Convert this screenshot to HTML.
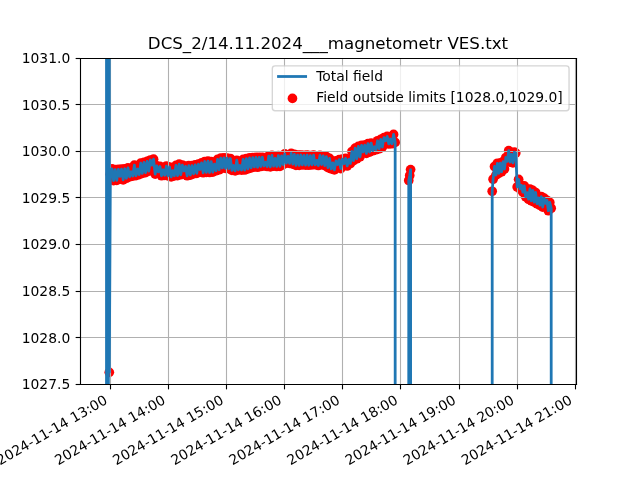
<!DOCTYPE html>
<html lang="en">
<head>
<meta charset="utf-8">
<title>DCS_2/14.11.2024___magnetometr VES.txt</title>
<style>html,body{margin:0;padding:0;background:#fff;overflow:hidden}svg{display:block}svg text{font-family:"DejaVu Sans","Liberation Sans",sans-serif}</style>
</head>
<body>
<svg width="640" height="480" viewBox="0 0 460.8 345.6">
 <defs>
  <style type="text/css">*{stroke-linejoin: round; stroke-linecap: butt}</style>
 </defs>
 <g id="figure_1">
  <g id="patch_1">
   <path d="M 0 345.6 L 460.8 345.6 L 460.8 0 L 0 0 z
" style="fill: #ffffff"/>
  </g>
  <g id="axes_1">
   <g id="patch_2">
    <path d="M 57.6 276.48 L 414.72 276.48 L 414.72 41.472 L 57.6 41.472 z
" style="fill: #ffffff"/>
   </g>
   <g id="PathCollection_1">
    <g clip-path="url(#p0667d4175c)">
     <circle cx="78.696" cy="268.087" r="3.5" style="fill: #ff0000"/>
     <circle cx="79.466" cy="125.400" r="3.5" style="fill: #ff0000"/>
     <circle cx="80.618" cy="121.572" r="3.5" style="fill: #ff0000"/>
     <circle cx="81.770" cy="129.985" r="3.5" style="fill: #ff0000"/>
     <circle cx="82.922" cy="122.128" r="3.5" style="fill: #ff0000"/>
     <circle cx="84.074" cy="129.885" r="3.5" style="fill: #ff0000"/>
     <circle cx="85.226" cy="121.924" r="3.5" style="fill: #ff0000"/>
     <circle cx="86.378" cy="127.049" r="3.5" style="fill: #ff0000"/>
     <circle cx="87.530" cy="121.744" r="3.5" style="fill: #ff0000"/>
     <circle cx="88.682" cy="129.527" r="3.5" style="fill: #ff0000"/>
     <circle cx="89.834" cy="121.513" r="3.5" style="fill: #ff0000"/>
     <circle cx="90.986" cy="128.341" r="3.5" style="fill: #ff0000"/>
     <circle cx="92.138" cy="120.942" r="3.5" style="fill: #ff0000"/>
     <circle cx="93.290" cy="127.317" r="3.5" style="fill: #ff0000"/>
     <circle cx="94.442" cy="123.652" r="3.5" style="fill: #ff0000"/>
     <circle cx="95.594" cy="126.764" r="3.5" style="fill: #ff0000"/>
     <circle cx="96.746" cy="118.905" r="3.5" style="fill: #ff0000"/>
     <circle cx="97.898" cy="126.486" r="3.5" style="fill: #ff0000"/>
     <circle cx="99.050" cy="121.683" r="3.5" style="fill: #ff0000"/>
     <circle cx="100.202" cy="125.751" r="3.5" style="fill: #ff0000"/>
     <circle cx="101.354" cy="117.471" r="3.5" style="fill: #ff0000"/>
     <circle cx="102.506" cy="124.861" r="3.5" style="fill: #ff0000"/>
     <circle cx="103.658" cy="116.880" r="3.5" style="fill: #ff0000"/>
     <circle cx="104.810" cy="124.295" r="3.5" style="fill: #ff0000"/>
     <circle cx="105.962" cy="116.182" r="3.5" style="fill: #ff0000"/>
     <circle cx="107.114" cy="123.212" r="3.5" style="fill: #ff0000"/>
     <circle cx="108.266" cy="115.208" r="3.5" style="fill: #ff0000"/>
     <circle cx="109.418" cy="118.890" r="3.5" style="fill: #ff0000"/>
     <circle cx="110.570" cy="114.622" r="3.5" style="fill: #ff0000"/>
     <circle cx="111.722" cy="125.359" r="3.5" style="fill: #ff0000"/>
     <circle cx="112.874" cy="119.434" r="3.5" style="fill: #ff0000"/>
     <circle cx="114.026" cy="123.727" r="3.5" style="fill: #ff0000"/>
     <circle cx="115.178" cy="119.867" r="3.5" style="fill: #ff0000"/>
     <circle cx="116.330" cy="126.529" r="3.5" style="fill: #ff0000"/>
     <circle cx="117.482" cy="122.220" r="3.5" style="fill: #ff0000"/>
     <circle cx="118.634" cy="126.202" r="3.5" style="fill: #ff0000"/>
     <circle cx="119.786" cy="119.552" r="3.5" style="fill: #ff0000"/>
     <circle cx="120.938" cy="126.586" r="3.5" style="fill: #ff0000"/>
     <circle cx="122.090" cy="120.238" r="3.5" style="fill: #ff0000"/>
     <circle cx="123.242" cy="127.331" r="3.5" style="fill: #ff0000"/>
     <circle cx="124.394" cy="122.825" r="3.5" style="fill: #ff0000"/>
     <circle cx="125.546" cy="126.555" r="3.5" style="fill: #ff0000"/>
     <circle cx="126.698" cy="119.098" r="3.5" style="fill: #ff0000"/>
     <circle cx="127.850" cy="126.397" r="3.5" style="fill: #ff0000"/>
     <circle cx="129.002" cy="118.205" r="3.5" style="fill: #ff0000"/>
     <circle cx="130.154" cy="125.815" r="3.5" style="fill: #ff0000"/>
     <circle cx="131.306" cy="118.836" r="3.5" style="fill: #ff0000"/>
     <circle cx="132.458" cy="123.111" r="3.5" style="fill: #ff0000"/>
     <circle cx="133.610" cy="119.780" r="3.5" style="fill: #ff0000"/>
     <circle cx="134.762" cy="126.546" r="3.5" style="fill: #ff0000"/>
     <circle cx="135.914" cy="119.320" r="3.5" style="fill: #ff0000"/>
     <circle cx="137.066" cy="126.014" r="3.5" style="fill: #ff0000"/>
     <circle cx="138.218" cy="119.264" r="3.5" style="fill: #ff0000"/>
     <circle cx="139.370" cy="125.141" r="3.5" style="fill: #ff0000"/>
     <circle cx="140.522" cy="118.775" r="3.5" style="fill: #ff0000"/>
     <circle cx="141.674" cy="124.768" r="3.5" style="fill: #ff0000"/>
     <circle cx="142.826" cy="118.237" r="3.5" style="fill: #ff0000"/>
     <circle cx="143.978" cy="122.026" r="3.5" style="fill: #ff0000"/>
     <circle cx="145.130" cy="117.229" r="3.5" style="fill: #ff0000"/>
     <circle cx="146.282" cy="124.379" r="3.5" style="fill: #ff0000"/>
     <circle cx="147.434" cy="116.297" r="3.5" style="fill: #ff0000"/>
     <circle cx="148.586" cy="124.134" r="3.5" style="fill: #ff0000"/>
     <circle cx="149.738" cy="116.051" r="3.5" style="fill: #ff0000"/>
     <circle cx="150.890" cy="124.176" r="3.5" style="fill: #ff0000"/>
     <circle cx="152.042" cy="116.330" r="3.5" style="fill: #ff0000"/>
     <circle cx="153.194" cy="123.952" r="3.5" style="fill: #ff0000"/>
     <circle cx="154.346" cy="118.132" r="3.5" style="fill: #ff0000"/>
     <circle cx="155.498" cy="122.935" r="3.5" style="fill: #ff0000"/>
     <circle cx="156.650" cy="114.824" r="3.5" style="fill: #ff0000"/>
     <circle cx="157.802" cy="122.207" r="3.5" style="fill: #ff0000"/>
     <circle cx="158.954" cy="113.872" r="3.5" style="fill: #ff0000"/>
     <circle cx="160.106" cy="120.937" r="3.5" style="fill: #ff0000"/>
     <circle cx="161.258" cy="113.608" r="3.5" style="fill: #ff0000"/>
     <circle cx="162.410" cy="121.215" r="3.5" style="fill: #ff0000"/>
     <circle cx="163.562" cy="113.814" r="3.5" style="fill: #ff0000"/>
     <circle cx="164.714" cy="121.434" r="3.5" style="fill: #ff0000"/>
     <circle cx="165.866" cy="114.122" r="3.5" style="fill: #ff0000"/>
     <circle cx="167.018" cy="122.679" r="3.5" style="fill: #ff0000"/>
     <circle cx="168.170" cy="119.164" r="3.5" style="fill: #ff0000"/>
     <circle cx="169.322" cy="123.022" r="3.5" style="fill: #ff0000"/>
     <circle cx="170.474" cy="115.374" r="3.5" style="fill: #ff0000"/>
     <circle cx="171.626" cy="122.300" r="3.5" style="fill: #ff0000"/>
     <circle cx="172.778" cy="119.192" r="3.5" style="fill: #ff0000"/>
     <circle cx="173.930" cy="122.422" r="3.5" style="fill: #ff0000"/>
     <circle cx="175.082" cy="114.788" r="3.5" style="fill: #ff0000"/>
     <circle cx="176.234" cy="122.403" r="3.5" style="fill: #ff0000"/>
     <circle cx="177.386" cy="114.223" r="3.5" style="fill: #ff0000"/>
     <circle cx="178.538" cy="121.538" r="3.5" style="fill: #ff0000"/>
     <circle cx="179.690" cy="113.708" r="3.5" style="fill: #ff0000"/>
     <circle cx="180.842" cy="120.852" r="3.5" style="fill: #ff0000"/>
     <circle cx="181.994" cy="113.517" r="3.5" style="fill: #ff0000"/>
     <circle cx="183.146" cy="120.183" r="3.5" style="fill: #ff0000"/>
     <circle cx="184.298" cy="113.355" r="3.5" style="fill: #ff0000"/>
     <circle cx="185.450" cy="120.377" r="3.5" style="fill: #ff0000"/>
     <circle cx="186.602" cy="113.294" r="3.5" style="fill: #ff0000"/>
     <circle cx="187.754" cy="119.883" r="3.5" style="fill: #ff0000"/>
     <circle cx="188.906" cy="113.240" r="3.5" style="fill: #ff0000"/>
     <circle cx="190.058" cy="119.512" r="3.5" style="fill: #ff0000"/>
     <circle cx="191.210" cy="116.857" r="3.5" style="fill: #ff0000"/>
     <circle cx="192.362" cy="119.874" r="3.5" style="fill: #ff0000"/>
     <circle cx="193.514" cy="112.351" r="3.5" style="fill: #ff0000"/>
     <circle cx="194.666" cy="120.149" r="3.5" style="fill: #ff0000"/>
     <circle cx="195.818" cy="111.926" r="3.5" style="fill: #ff0000"/>
     <circle cx="196.970" cy="119.605" r="3.5" style="fill: #ff0000"/>
     <circle cx="198.122" cy="113.988" r="3.5" style="fill: #ff0000"/>
     <circle cx="199.274" cy="119.868" r="3.5" style="fill: #ff0000"/>
     <circle cx="200.426" cy="112.013" r="3.5" style="fill: #ff0000"/>
     <circle cx="201.578" cy="119.785" r="3.5" style="fill: #ff0000"/>
     <circle cx="202.730" cy="112.208" r="3.5" style="fill: #ff0000"/>
     <circle cx="203.882" cy="118.453" r="3.5" style="fill: #ff0000"/>
     <circle cx="205.034" cy="110.810" r="3.5" style="fill: #ff0000"/>
     <circle cx="206.186" cy="117.445" r="3.5" style="fill: #ff0000"/>
     <circle cx="207.338" cy="112.630" r="3.5" style="fill: #ff0000"/>
     <circle cx="208.490" cy="117.667" r="3.5" style="fill: #ff0000"/>
     <circle cx="209.642" cy="110.423" r="3.5" style="fill: #ff0000"/>
     <circle cx="210.794" cy="118.204" r="3.5" style="fill: #ff0000"/>
     <circle cx="211.946" cy="111.159" r="3.5" style="fill: #ff0000"/>
     <circle cx="213.098" cy="119.035" r="3.5" style="fill: #ff0000"/>
     <circle cx="214.250" cy="111.709" r="3.5" style="fill: #ff0000"/>
     <circle cx="215.402" cy="118.999" r="3.5" style="fill: #ff0000"/>
     <circle cx="216.554" cy="111.601" r="3.5" style="fill: #ff0000"/>
     <circle cx="217.706" cy="118.714" r="3.5" style="fill: #ff0000"/>
     <circle cx="218.858" cy="111.876" r="3.5" style="fill: #ff0000"/>
     <circle cx="220.010" cy="118.858" r="3.5" style="fill: #ff0000"/>
     <circle cx="221.162" cy="111.726" r="3.5" style="fill: #ff0000"/>
     <circle cx="222.314" cy="118.980" r="3.5" style="fill: #ff0000"/>
     <circle cx="223.466" cy="112.011" r="3.5" style="fill: #ff0000"/>
     <circle cx="224.618" cy="118.638" r="3.5" style="fill: #ff0000"/>
     <circle cx="225.770" cy="111.733" r="3.5" style="fill: #ff0000"/>
     <circle cx="226.922" cy="118.605" r="3.5" style="fill: #ff0000"/>
     <circle cx="228.074" cy="115.495" r="3.5" style="fill: #ff0000"/>
     <circle cx="229.226" cy="119.163" r="3.5" style="fill: #ff0000"/>
     <circle cx="230.378" cy="111.899" r="3.5" style="fill: #ff0000"/>
     <circle cx="231.530" cy="118.510" r="3.5" style="fill: #ff0000"/>
     <circle cx="232.682" cy="112.228" r="3.5" style="fill: #ff0000"/>
     <circle cx="233.834" cy="119.191" r="3.5" style="fill: #ff0000"/>
     <circle cx="234.986" cy="112.764" r="3.5" style="fill: #ff0000"/>
     <circle cx="236.138" cy="120.698" r="3.5" style="fill: #ff0000"/>
     <circle cx="237.290" cy="114.032" r="3.5" style="fill: #ff0000"/>
     <circle cx="238.442" cy="121.533" r="3.5" style="fill: #ff0000"/>
     <circle cx="239.594" cy="117.215" r="3.5" style="fill: #ff0000"/>
     <circle cx="240.746" cy="122.336" r="3.5" style="fill: #ff0000"/>
     <circle cx="241.898" cy="115.857" r="3.5" style="fill: #ff0000"/>
     <circle cx="243.050" cy="118.478" r="3.5" style="fill: #ff0000"/>
     <circle cx="244.202" cy="114.944" r="3.5" style="fill: #ff0000"/>
     <circle cx="245.354" cy="121.393" r="3.5" style="fill: #ff0000"/>
     <circle cx="246.506" cy="114.608" r="3.5" style="fill: #ff0000"/>
     <circle cx="247.658" cy="117.794" r="3.5" style="fill: #ff0000"/>
     <circle cx="248.810" cy="113.983" r="3.5" style="fill: #ff0000"/>
     <circle cx="249.962" cy="119.476" r="3.5" style="fill: #ff0000"/>
     <circle cx="251.114" cy="114.743" r="3.5" style="fill: #ff0000"/>
     <circle cx="252.266" cy="117.678" r="3.5" style="fill: #ff0000"/>
     <circle cx="253.418" cy="109.082" r="3.5" style="fill: #ff0000"/>
     <circle cx="254.570" cy="115.685" r="3.5" style="fill: #ff0000"/>
     <circle cx="255.722" cy="106.714" r="3.5" style="fill: #ff0000"/>
     <circle cx="256.874" cy="114.295" r="3.5" style="fill: #ff0000"/>
     <circle cx="258.026" cy="105.410" r="3.5" style="fill: #ff0000"/>
     <circle cx="259.178" cy="112.894" r="3.5" style="fill: #ff0000"/>
     <circle cx="260.330" cy="104.714" r="3.5" style="fill: #ff0000"/>
     <circle cx="261.482" cy="109.421" r="3.5" style="fill: #ff0000"/>
     <circle cx="262.634" cy="104.436" r="3.5" style="fill: #ff0000"/>
     <circle cx="263.786" cy="110.464" r="3.5" style="fill: #ff0000"/>
     <circle cx="264.938" cy="103.386" r="3.5" style="fill: #ff0000"/>
     <circle cx="266.090" cy="109.469" r="3.5" style="fill: #ff0000"/>
     <circle cx="267.242" cy="103.032" r="3.5" style="fill: #ff0000"/>
     <circle cx="268.394" cy="108.511" r="3.5" style="fill: #ff0000"/>
     <circle cx="269.546" cy="105.622" r="3.5" style="fill: #ff0000"/>
     <circle cx="270.698" cy="107.801" r="3.5" style="fill: #ff0000"/>
     <circle cx="271.850" cy="101.346" r="3.5" style="fill: #ff0000"/>
     <circle cx="273.002" cy="107.056" r="3.5" style="fill: #ff0000"/>
     <circle cx="274.154" cy="100.391" r="3.5" style="fill: #ff0000"/>
     <circle cx="275.306" cy="105.888" r="3.5" style="fill: #ff0000"/>
     <circle cx="276.458" cy="99.083" r="3.5" style="fill: #ff0000"/>
     <circle cx="277.610" cy="101.393" r="3.5" style="fill: #ff0000"/>
     <circle cx="278.762" cy="98.191" r="3.5" style="fill: #ff0000"/>
     <circle cx="279.914" cy="103.651" r="3.5" style="fill: #ff0000"/>
     <circle cx="281.066" cy="100.084" r="3.5" style="fill: #ff0000"/>
     <circle cx="282.218" cy="103.509" r="3.5" style="fill: #ff0000"/>
     <circle cx="283.370" cy="96.776" r="3.5" style="fill: #ff0000"/>
     <circle cx="284.522" cy="102.525" r="3.5" style="fill: #ff0000"/>
     <circle cx="294.300" cy="129.960" r="3.5" style="fill: #ff0000"/>
     <circle cx="294.998" cy="126.360" r="3.5" style="fill: #ff0000"/>
     <circle cx="295.632" cy="122.112" r="3.5" style="fill: #ff0000"/>
     <circle cx="354.384" cy="137.700" r="3.5" style="fill: #ff0000"/>
     <circle cx="355.034" cy="129.031" r="3.5" style="fill: #ff0000"/>
     <circle cx="356.054" cy="119.878" r="3.5" style="fill: #ff0000"/>
     <circle cx="357.075" cy="126.093" r="3.5" style="fill: #ff0000"/>
     <circle cx="358.095" cy="117.571" r="3.5" style="fill: #ff0000"/>
     <circle cx="359.115" cy="124.751" r="3.5" style="fill: #ff0000"/>
     <circle cx="360.135" cy="117.517" r="3.5" style="fill: #ff0000"/>
     <circle cx="361.156" cy="123.648" r="3.5" style="fill: #ff0000"/>
     <circle cx="362.176" cy="116.355" r="3.5" style="fill: #ff0000"/>
     <circle cx="363.196" cy="121.714" r="3.5" style="fill: #ff0000"/>
     <circle cx="364.216" cy="113.409" r="3.5" style="fill: #ff0000"/>
     <circle cx="365.237" cy="116.177" r="3.5" style="fill: #ff0000"/>
     <circle cx="366.257" cy="108.472" r="3.5" style="fill: #ff0000"/>
     <circle cx="367.277" cy="116.697" r="3.5" style="fill: #ff0000"/>
     <circle cx="368.297" cy="111.158" r="3.5" style="fill: #ff0000"/>
     <circle cx="369.318" cy="117.244" r="3.5" style="fill: #ff0000"/>
     <circle cx="370.338" cy="109.598" r="3.5" style="fill: #ff0000"/>
     <circle cx="371.358" cy="110.241" r="3.5" style="fill: #ff0000"/>
     <circle cx="372.378" cy="134.622" r="3.5" style="fill: #ff0000"/>
     <circle cx="373.398" cy="129.147" r="3.5" style="fill: #ff0000"/>
     <circle cx="374.419" cy="135.956" r="3.5" style="fill: #ff0000"/>
     <circle cx="375.439" cy="133.443" r="3.5" style="fill: #ff0000"/>
     <circle cx="376.459" cy="138.346" r="3.5" style="fill: #ff0000"/>
     <circle cx="377.479" cy="133.843" r="3.5" style="fill: #ff0000"/>
     <circle cx="378.500" cy="141.687" r="3.5" style="fill: #ff0000"/>
     <circle cx="379.520" cy="138.709" r="3.5" style="fill: #ff0000"/>
     <circle cx="380.540" cy="143.429" r="3.5" style="fill: #ff0000"/>
     <circle cx="381.560" cy="136.074" r="3.5" style="fill: #ff0000"/>
     <circle cx="382.581" cy="144.557" r="3.5" style="fill: #ff0000"/>
     <circle cx="383.601" cy="137.089" r="3.5" style="fill: #ff0000"/>
     <circle cx="384.621" cy="145.533" r="3.5" style="fill: #ff0000"/>
     <circle cx="385.641" cy="138.593" r="3.5" style="fill: #ff0000"/>
     <circle cx="386.662" cy="146.656" r="3.5" style="fill: #ff0000"/>
     <circle cx="387.682" cy="142.499" r="3.5" style="fill: #ff0000"/>
     <circle cx="388.702" cy="147.757" r="3.5" style="fill: #ff0000"/>
     <circle cx="389.722" cy="141.501" r="3.5" style="fill: #ff0000"/>
     <circle cx="390.743" cy="149.081" r="3.5" style="fill: #ff0000"/>
     <circle cx="391.763" cy="142.674" r="3.5" style="fill: #ff0000"/>
     <circle cx="392.783" cy="146.386" r="3.5" style="fill: #ff0000"/>
     <circle cx="393.803" cy="144.214" r="3.5" style="fill: #ff0000"/>
     <circle cx="394.824" cy="151.707" r="3.5" style="fill: #ff0000"/>
     <circle cx="395.844" cy="145.785" r="3.5" style="fill: #ff0000"/>
     <circle cx="396.864" cy="149.963" r="3.5" style="fill: #ff0000"/>
    </g>
   </g>
   <g id="matplotlib.axis_1">
    <g id="xtick_1">
     <g id="line2d_1">
      <path d="M 79.560000 276.840000 L 79.560000 42.120000" clip-path="url(#p0667d4175c)" style="fill: none; stroke: #b0b0b0; stroke-width: 0.8; stroke-linecap: square"/>
     </g>
     <g id="line2d_2">
      <g>
       <path d="M 79.560000 276.840000 l 0 3.5" style="stroke: #000000; stroke-width: 0.8"/>
      </g>
     </g>
     <g id="text_1">
      <text style="font-size: 10px; font-family: 'DejaVu Sans', sans-serif" transform="translate(0.084442 335.11669) rotate(-30)">2024-11-14 13:00</text>
     </g>
    </g>
    <g id="xtick_2">
     <g id="line2d_3">
      <path d="M 121.320000 276.840000 L 121.320000 42.120000" clip-path="url(#p0667d4175c)" style="fill: none; stroke: #b0b0b0; stroke-width: 0.8; stroke-linecap: square"/>
     </g>
     <g id="line2d_4">
      <g>
       <path d="M 121.320000 276.840000 l 0 3.5" style="stroke: #000000; stroke-width: 0.8"/>
      </g>
     </g>
     <g id="text_2">
      <text style="font-size: 10px; font-family: 'DejaVu Sans', sans-serif" transform="translate(41.916442 335.11669) rotate(-30)">2024-11-14 14:00</text>
     </g>
    </g>
    <g id="xtick_3">
     <g id="line2d_5">
      <path d="M 163.080000 276.840000 L 163.080000 42.120000" clip-path="url(#p0667d4175c)" style="fill: none; stroke: #b0b0b0; stroke-width: 0.8; stroke-linecap: square"/>
     </g>
     <g id="line2d_6">
      <g>
       <path d="M 163.080000 276.840000 l 0 3.5" style="stroke: #000000; stroke-width: 0.8"/>
      </g>
     </g>
     <g id="text_3">
      <text style="font-size: 10px; font-family: 'DejaVu Sans', sans-serif" transform="translate(83.748442 335.11669) rotate(-30)">2024-11-14 15:00</text>
     </g>
    </g>
    <g id="xtick_4">
     <g id="line2d_7">
      <path d="M 204.840000 276.840000 L 204.840000 42.120000" clip-path="url(#p0667d4175c)" style="fill: none; stroke: #b0b0b0; stroke-width: 0.8; stroke-linecap: square"/>
     </g>
     <g id="line2d_8">
      <g>
       <path d="M 204.840000 276.840000 l 0 3.5" style="stroke: #000000; stroke-width: 0.8"/>
      </g>
     </g>
     <g id="text_4">
      <text style="font-size: 10px; font-family: 'DejaVu Sans', sans-serif" transform="translate(125.580442 335.11669) rotate(-30)">2024-11-14 16:00</text>
     </g>
    </g>
    <g id="xtick_5">
     <g id="line2d_9">
      <path d="M 246.600000 276.840000 L 246.600000 42.120000" clip-path="url(#p0667d4175c)" style="fill: none; stroke: #b0b0b0; stroke-width: 0.8; stroke-linecap: square"/>
     </g>
     <g id="line2d_10">
      <g>
       <path d="M 246.600000 276.840000 l 0 3.5" style="stroke: #000000; stroke-width: 0.8"/>
      </g>
     </g>
     <g id="text_5">
      <text style="font-size: 10px; font-family: 'DejaVu Sans', sans-serif" transform="translate(167.412442 335.11669) rotate(-30)">2024-11-14 17:00</text>
     </g>
    </g>
    <g id="xtick_6">
     <g id="line2d_11">
      <path d="M 288.360000 276.840000 L 288.360000 42.120000" clip-path="url(#p0667d4175c)" style="fill: none; stroke: #b0b0b0; stroke-width: 0.8; stroke-linecap: square"/>
     </g>
     <g id="line2d_12">
      <g>
       <path d="M 288.360000 276.840000 l 0 3.5" style="stroke: #000000; stroke-width: 0.8"/>
      </g>
     </g>
     <g id="text_6">
      <text style="font-size: 10px; font-family: 'DejaVu Sans', sans-serif" transform="translate(209.244442 335.11669) rotate(-30)">2024-11-14 18:00</text>
     </g>
    </g>
    <g id="xtick_7">
     <g id="line2d_13">
      <path d="M 330.840000 276.840000 L 330.840000 42.120000" clip-path="url(#p0667d4175c)" style="fill: none; stroke: #b0b0b0; stroke-width: 0.8; stroke-linecap: square"/>
     </g>
     <g id="line2d_14">
      <g>
       <path d="M 330.840000 276.840000 l 0 3.5" style="stroke: #000000; stroke-width: 0.8"/>
      </g>
     </g>
     <g id="text_7">
      <text style="font-size: 10px; font-family: 'DejaVu Sans', sans-serif" transform="translate(251.076442 335.11669) rotate(-30)">2024-11-14 19:00</text>
     </g>
    </g>
    <g id="xtick_8">
     <g id="line2d_15">
      <path d="M 372.600000 276.840000 L 372.600000 42.120000" clip-path="url(#p0667d4175c)" style="fill: none; stroke: #b0b0b0; stroke-width: 0.8; stroke-linecap: square"/>
     </g>
     <g id="line2d_16">
      <g>
       <path d="M 372.600000 276.840000 l 0 3.5" style="stroke: #000000; stroke-width: 0.8"/>
      </g>
     </g>
     <g id="text_8">
      <text style="font-size: 10px; font-family: 'DejaVu Sans', sans-serif" transform="translate(292.908442 335.11669) rotate(-30)">2024-11-14 20:00</text>
     </g>
    </g>
    <g id="xtick_9">
     <g id="line2d_17">
      <path d="M 414.360000 276.840000 L 414.360000 42.120000" clip-path="url(#p0667d4175c)" style="fill: none; stroke: #b0b0b0; stroke-width: 0.8; stroke-linecap: square"/>
     </g>
     <g id="line2d_18">
      <g>
       <path d="M 414.360000 276.840000 l 0 3.5" style="stroke: #000000; stroke-width: 0.8"/>
      </g>
     </g>
     <g id="text_9">
      <text style="font-size: 10px; font-family: 'DejaVu Sans', sans-serif" transform="translate(334.740442 335.11669) rotate(-30)">2024-11-14 21:00</text>
     </g>
    </g>
   </g>
   <g id="matplotlib.axis_2">
    <g id="ytick_1">
     <g id="line2d_19">
      <path d="M 57.960000 276.840000 L 415.080000 276.840000" clip-path="url(#p0667d4175c)" style="fill: none; stroke: #b0b0b0; stroke-width: 0.8; stroke-linecap: square"/>
     </g>
     <g id="line2d_20">
      <g>
       <path d="M 57.960000 276.840000 l -3.5 0" style="stroke: #000000; stroke-width: 0.8"/>
      </g>
     </g>
     <g id="text_10">
      <text style="font-size: 10px; font-family: 'DejaVu Sans', sans-serif; text-anchor: end" x="50.6" y="280.279219">1027.5</text>
     </g>
    </g>
    <g id="ytick_2">
     <g id="line2d_21">
      <path d="M 57.960000 243.000000 L 415.080000 243.000000" clip-path="url(#p0667d4175c)" style="fill: none; stroke: #b0b0b0; stroke-width: 0.8; stroke-linecap: square"/>
     </g>
     <g id="line2d_22">
      <g>
       <path d="M 57.960000 243.000000 l -3.5 0" style="stroke: #000000; stroke-width: 0.8"/>
      </g>
     </g>
     <g id="text_11">
      <text style="font-size: 10px; font-family: 'DejaVu Sans', sans-serif; text-anchor: end" x="50.6" y="246.706647">1028.0</text>
     </g>
    </g>
    <g id="ytick_3">
     <g id="line2d_23">
      <path d="M 57.960000 209.880000 L 415.080000 209.880000" clip-path="url(#p0667d4175c)" style="fill: none; stroke: #b0b0b0; stroke-width: 0.8; stroke-linecap: square"/>
     </g>
     <g id="line2d_24">
      <g>
       <path d="M 57.960000 209.880000 l -3.5 0" style="stroke: #000000; stroke-width: 0.8"/>
      </g>
     </g>
     <g id="text_12">
      <text style="font-size: 10px; font-family: 'DejaVu Sans', sans-serif; text-anchor: end" x="50.6" y="213.134076">1028.5</text>
     </g>
    </g>
    <g id="ytick_4">
     <g id="line2d_25">
      <path d="M 57.960000 176.040000 L 415.080000 176.040000" clip-path="url(#p0667d4175c)" style="fill: none; stroke: #b0b0b0; stroke-width: 0.8; stroke-linecap: square"/>
     </g>
     <g id="line2d_26">
      <g>
       <path d="M 57.960000 176.040000 l -3.5 0" style="stroke: #000000; stroke-width: 0.8"/>
      </g>
     </g>
     <g id="text_13">
      <text style="font-size: 10px; font-family: 'DejaVu Sans', sans-serif; text-anchor: end" x="50.6" y="179.561504">1029.0</text>
     </g>
    </g>
    <g id="ytick_5">
     <g id="line2d_27">
      <path d="M 57.960000 142.200000 L 415.080000 142.200000" clip-path="url(#p0667d4175c)" style="fill: none; stroke: #b0b0b0; stroke-width: 0.8; stroke-linecap: square"/>
     </g>
     <g id="line2d_28">
      <g>
       <path d="M 57.960000 142.200000 l -3.5 0" style="stroke: #000000; stroke-width: 0.8"/>
      </g>
     </g>
     <g id="text_14">
      <text style="font-size: 10px; font-family: 'DejaVu Sans', sans-serif; text-anchor: end" x="50.6" y="145.988933">1029.5</text>
     </g>
    </g>
    <g id="ytick_6">
     <g id="line2d_29">
      <path d="M 57.960000 109.080000 L 415.080000 109.080000" clip-path="url(#p0667d4175c)" style="fill: none; stroke: #b0b0b0; stroke-width: 0.8; stroke-linecap: square"/>
     </g>
     <g id="line2d_30">
      <g>
       <path d="M 57.960000 109.080000 l -3.5 0" style="stroke: #000000; stroke-width: 0.8"/>
      </g>
     </g>
     <g id="text_15">
      <text style="font-size: 10px; font-family: 'DejaVu Sans', sans-serif; text-anchor: end" x="50.6" y="112.416362">1030.0</text>
     </g>
    </g>
    <g id="ytick_7">
     <g id="line2d_31">
      <path d="M 57.960000 75.240000 L 415.080000 75.240000" clip-path="url(#p0667d4175c)" style="fill: none; stroke: #b0b0b0; stroke-width: 0.8; stroke-linecap: square"/>
     </g>
     <g id="line2d_32">
      <g>
       <path d="M 57.960000 75.240000 l -3.5 0" style="stroke: #000000; stroke-width: 0.8"/>
      </g>
     </g>
     <g id="text_16">
      <text style="font-size: 10px; font-family: 'DejaVu Sans', sans-serif; text-anchor: end" x="50.6" y="78.84379">1030.5</text>
     </g>
    </g>
    <g id="ytick_8">
     <g id="line2d_33">
      <path d="M 57.960000 42.120000 L 415.080000 42.120000" clip-path="url(#p0667d4175c)" style="fill: none; stroke: #b0b0b0; stroke-width: 0.8; stroke-linecap: square"/>
     </g>
     <g id="line2d_34">
      <g>
       <path d="M 57.960000 42.120000 l -3.5 0" style="stroke: #000000; stroke-width: 0.8"/>
      </g>
     </g>
     <g id="text_17">
      <text style="font-size: 10px; font-family: 'DejaVu Sans', sans-serif; text-anchor: end" x="50.6" y="45.271219">1031.0</text>
     </g>
    </g>
   </g>
   <g id="line2d_35">
    <path d="M 76.678935 346.6 L 76.680746 -1 M 77.327403 -1 L 77.328852 346.6 M 78.046723 346.6 L 78.048895 -1 M 78.695161 -1 L 78.696 268.086857 L 79.4664 125.400425 L 80.6184 121.571705 L 81.7704 129.985469 L 82.9224 122.127592 L 84.0744 129.885263 L 85.2264 121.923974 L 86.3784 127.049371 L 87.5304 121.744154 L 88.6824 129.526838 L 89.8344 121.512686 L 90.9864 128.340708 L 92.1384 120.942028 L 93.2904 127.316547 L 94.4424 123.652327 L 95.5944 126.763903 L 96.7464 118.905183 L 97.8984 126.486284 L 99.0504 121.682664 L 100.2024 125.751311 L 101.3544 117.471197 L 102.5064 124.861499 L 103.6584 116.879658 L 104.8104 124.294882 L 105.9624 116.182283 L 107.1144 123.212438 L 108.2664 115.208499 L 109.4184 118.890165 L 110.5704 114.622195 L 111.7224 125.35933 L 112.8744 119.434007 L 114.0264 123.726965 L 115.1784 119.866638 L 116.3304 126.529039 L 117.4824 122.21957 L 118.6344 126.202463 L 119.7864 119.552399 L 120.9384 126.585876 L 122.0904 120.23805 L 123.2424 127.331133 L 124.3944 122.825356 L 125.5464 126.554914 L 126.6984 119.097545 L 127.8504 126.396781 L 129.0024 118.204883 L 130.1544 125.815183 L 131.3064 118.835925 L 132.4584 123.111433 L 133.6104 119.78049 L 134.7624 126.545812 L 135.9144 119.320132 L 137.0664 126.014124 L 138.2184 119.264052 L 139.3704 125.140993 L 140.5224 118.774789 L 141.6744 124.767695 L 142.8264 118.236594 L 143.9784 122.02563 L 145.1304 117.229178 L 146.2824 124.378631 L 147.4344 116.297478 L 148.5864 124.133733 L 149.7384 116.050701 L 150.8904 124.176451 L 152.0424 116.33032 L 153.1944 123.951567 L 154.3464 118.132148 L 155.4984 122.934777 L 156.6504 114.824178 L 157.8024 122.206989 L 158.9544 113.87157 L 160.1064 120.936953 L 161.2584 113.607601 L 162.4104 121.215433 L 163.5624 113.813951 L 164.7144 121.433532 L 165.8664 114.122306 L 167.0184 122.679372 L 168.1704 119.163996 L 169.3224 123.021571 L 170.4744 115.374417 L 171.6264 122.29973 L 172.7784 119.192233 L 173.9304 122.422453 L 175.0824 114.787756 L 176.2344 122.403397 L 177.3864 114.222814 L 178.5384 121.538087 L 179.6904 113.707699 L 180.8424 120.851739 L 181.9944 113.517118 L 183.1464 120.182945 L 184.2984 113.354619 L 185.4504 120.376753 L 186.6024 113.29351 L 187.7544 119.882804 L 188.9064 113.239862 L 190.0584 119.512425 L 191.2104 116.856804 L 192.3624 119.873766 L 193.5144 112.350891 L 194.6664 120.148528 L 195.8184 111.926268 L 196.9704 119.605314 L 198.1224 113.988124 L 199.2744 119.8678 L 200.4264 112.013439 L 201.5784 119.784619 L 202.7304 112.208144 L 203.8824 118.452525 L 205.0344 110.810176 L 206.1864 117.444832 L 207.3384 112.630456 L 208.4904 117.666506 L 209.6424 110.423126 L 210.7944 118.203529 L 211.9464 111.159007 L 213.0984 119.035283 L 214.2504 111.70914 L 215.4024 118.998596 L 216.5544 111.600792 L 217.7064 118.714477 L 218.8584 111.876204 L 220.0104 118.8582 L 221.1624 111.726353 L 222.3144 118.979609 L 223.4664 112.011333 L 224.6184 118.638258 L 225.7704 111.733233 L 226.9224 118.604749 L 228.0744 115.495288 L 229.2264 119.162636 L 230.3784 111.899278 L 231.5304 118.510211 L 232.6824 112.228147 L 233.8344 119.190686 L 234.9864 112.764287 L 236.1384 120.698159 L 237.2904 114.031905 L 238.4424 121.533437 L 239.5944 117.215494 L 240.7464 122.335846 L 241.8984 115.856539 L 243.0504 118.478313 L 244.2024 114.943515 L 245.3544 121.393487 L 246.5064 114.608337 L 247.6584 117.79383 L 248.8104 113.983206 L 249.9624 119.476421 L 251.1144 114.742841 L 252.2664 117.677514 L 253.4184 109.081698 L 254.5704 115.685216 L 255.7224 106.714261 L 256.8744 114.295216 L 258.0264 105.409995 L 259.1784 112.89403 L 260.3304 104.713748 L 261.4824 109.420555 L 262.6344 104.435948 L 263.7864 110.464261 L 264.9384 103.386425 L 266.0904 109.468823 L 267.2424 103.031899 L 268.3944 108.510768 L 269.5464 105.621552 L 270.6984 107.801406 L 271.8504 101.345776 L 273.0024 107.056212 L 274.1544 100.390921 L 275.3064 105.888415 L 276.4584 99.083049 L 277.6104 101.393175 L 278.7624 98.190606 L 279.9144 103.650805 L 281.0664 100.083883 L 282.2184 103.50886 L 283.3704 96.776177 L 284.5224 102.524538 L 284.524865 346.6 M 294.296819 346.6 L 294.3 129.960136 L 294.9984 126.36013 L 295.632 122.112124 L 295.634267 346.6 M 354.382629 346.6 L 354.384 137.700147 L 355.03416 129.031392 L 356.0544 119.878471 L 357.07464 126.093047 L 358.09488 117.570847 L 359.11512 124.751027 L 360.13536 117.517049 L 361.1556 123.648012 L 362.17584 116.355451 L 363.19608 121.71404 L 364.21632 113.409351 L 365.23656 116.176511 L 366.2568 108.472338 L 367.27704 116.696503 L 368.29728 111.15759 L 369.31752 117.244452 L 370.33776 109.597929 L 371.358 110.240715 L 372.37824 134.621531 L 373.39848 129.146685 L 374.41872 135.95636 L 375.43896 133.442721 L 376.4592 138.346442 L 377.47944 133.843394 L 378.49968 141.686848 L 379.51992 138.70901 L 380.54016 143.429214 L 381.5604 136.073757 L 382.58064 144.556899 L 383.60088 137.089059 L 384.62112 145.532535 L 385.64136 138.592518 L 386.6616 146.655634 L 387.68184 142.49948 L 388.70208 147.757363 L 389.72232 141.501184 L 390.74256 149.080645 L 391.7628 142.673623 L 392.78304 146.386097 L 393.80328 144.213829 L 394.82352 151.707312 L 395.84376 145.784564 L 396.864 149.96345 L 396.865987 346.6 L 396.865987 346.6 
" clip-path="url(#p0667d4175c)" style="fill: none; stroke: #1f77b4; stroke-width: 2; stroke-linecap: square"/>
   </g>
   <g id="patch_3">
    <path d="M 57.960000 276.840000 L 57.960000 42.120000" style="fill: none; stroke: #000000; stroke-width: 0.8; stroke-linejoin: miter; stroke-linecap: square"/>
   </g>
   <g id="patch_4">
    <path d="M 415.080000 276.840000 L 415.080000 42.120000" style="fill: none; stroke: #000000; stroke-width: 0.8; stroke-linejoin: miter; stroke-linecap: square"/>
   </g>
   <g id="patch_5">
    <path d="M 57.960000 276.840000 L 415.080000 276.840000" style="fill: none; stroke: #000000; stroke-width: 0.8; stroke-linejoin: miter; stroke-linecap: square"/>
   </g>
   <g id="patch_6">
    <path d="M 57.960000 42.120000 L 415.080000 42.120000" style="fill: none; stroke: #000000; stroke-width: 0.8; stroke-linejoin: miter; stroke-linecap: square"/>
   </g>
   <g id="text_18">
    <text style="font-size: 12px; font-family: 'DejaVu Sans', sans-serif; text-anchor: middle" x="236.16" y="35.472">DCS_2/14.11.2024___magnetometr VES.txt</text>
   </g>
   <g id="legend_1">
    <g id="patch_7">
     <path transform="translate(0 0.94)" d="M 198.068437 78.82825 L 407.72 78.82825 
Q 409.72 78.82825 409.72 76.82825 L 409.72 48.472 
Q 409.72 46.472 407.72 46.472 L 198.068437 46.472 
Q 196.068437 46.472 196.068437 48.472 L 196.068437 76.82825 
Q 196.068437 78.82825 198.068437 78.82825 z
" style="fill: #ffffff; opacity: 0.8; stroke: #cccccc; stroke-linejoin: miter"/>
    </g>
    <g id="line2d_36">
     <path d="M 200.520000 55.080000 L 210.600000 55.080000 L 220.070000 55.080000" style="fill: none; stroke: #1f77b4; stroke-width: 2; stroke-linecap: square"/>
    </g>
    <g id="text_19">
     <text style="font-size: 10px; font-family: 'DejaVu Sans', sans-serif; text-anchor: start" x="227.708437" y="58.070437">Total field</text>
    </g>
    <g id="PathCollection_2">
     <g>
      <circle cx="210.568" cy="70.844" r="3.5" style="fill: #ff0000"/>
     </g>
    </g>
    <g id="text_20">
     <text style="font-size: 10px; font-family: 'DejaVu Sans', sans-serif; text-anchor: start" x="227.708437" y="73.468562">Field outside limits [1028.0,1029.0]</text>
    </g>
   </g>
  </g>
 </g>
 <defs>
  <clipPath id="p0667d4175c"><rect x="57.600000" y="41.760000" width="357.120000" height="234.720000"/>
  </clipPath>
 </defs>
</svg>

</body>
</html>
